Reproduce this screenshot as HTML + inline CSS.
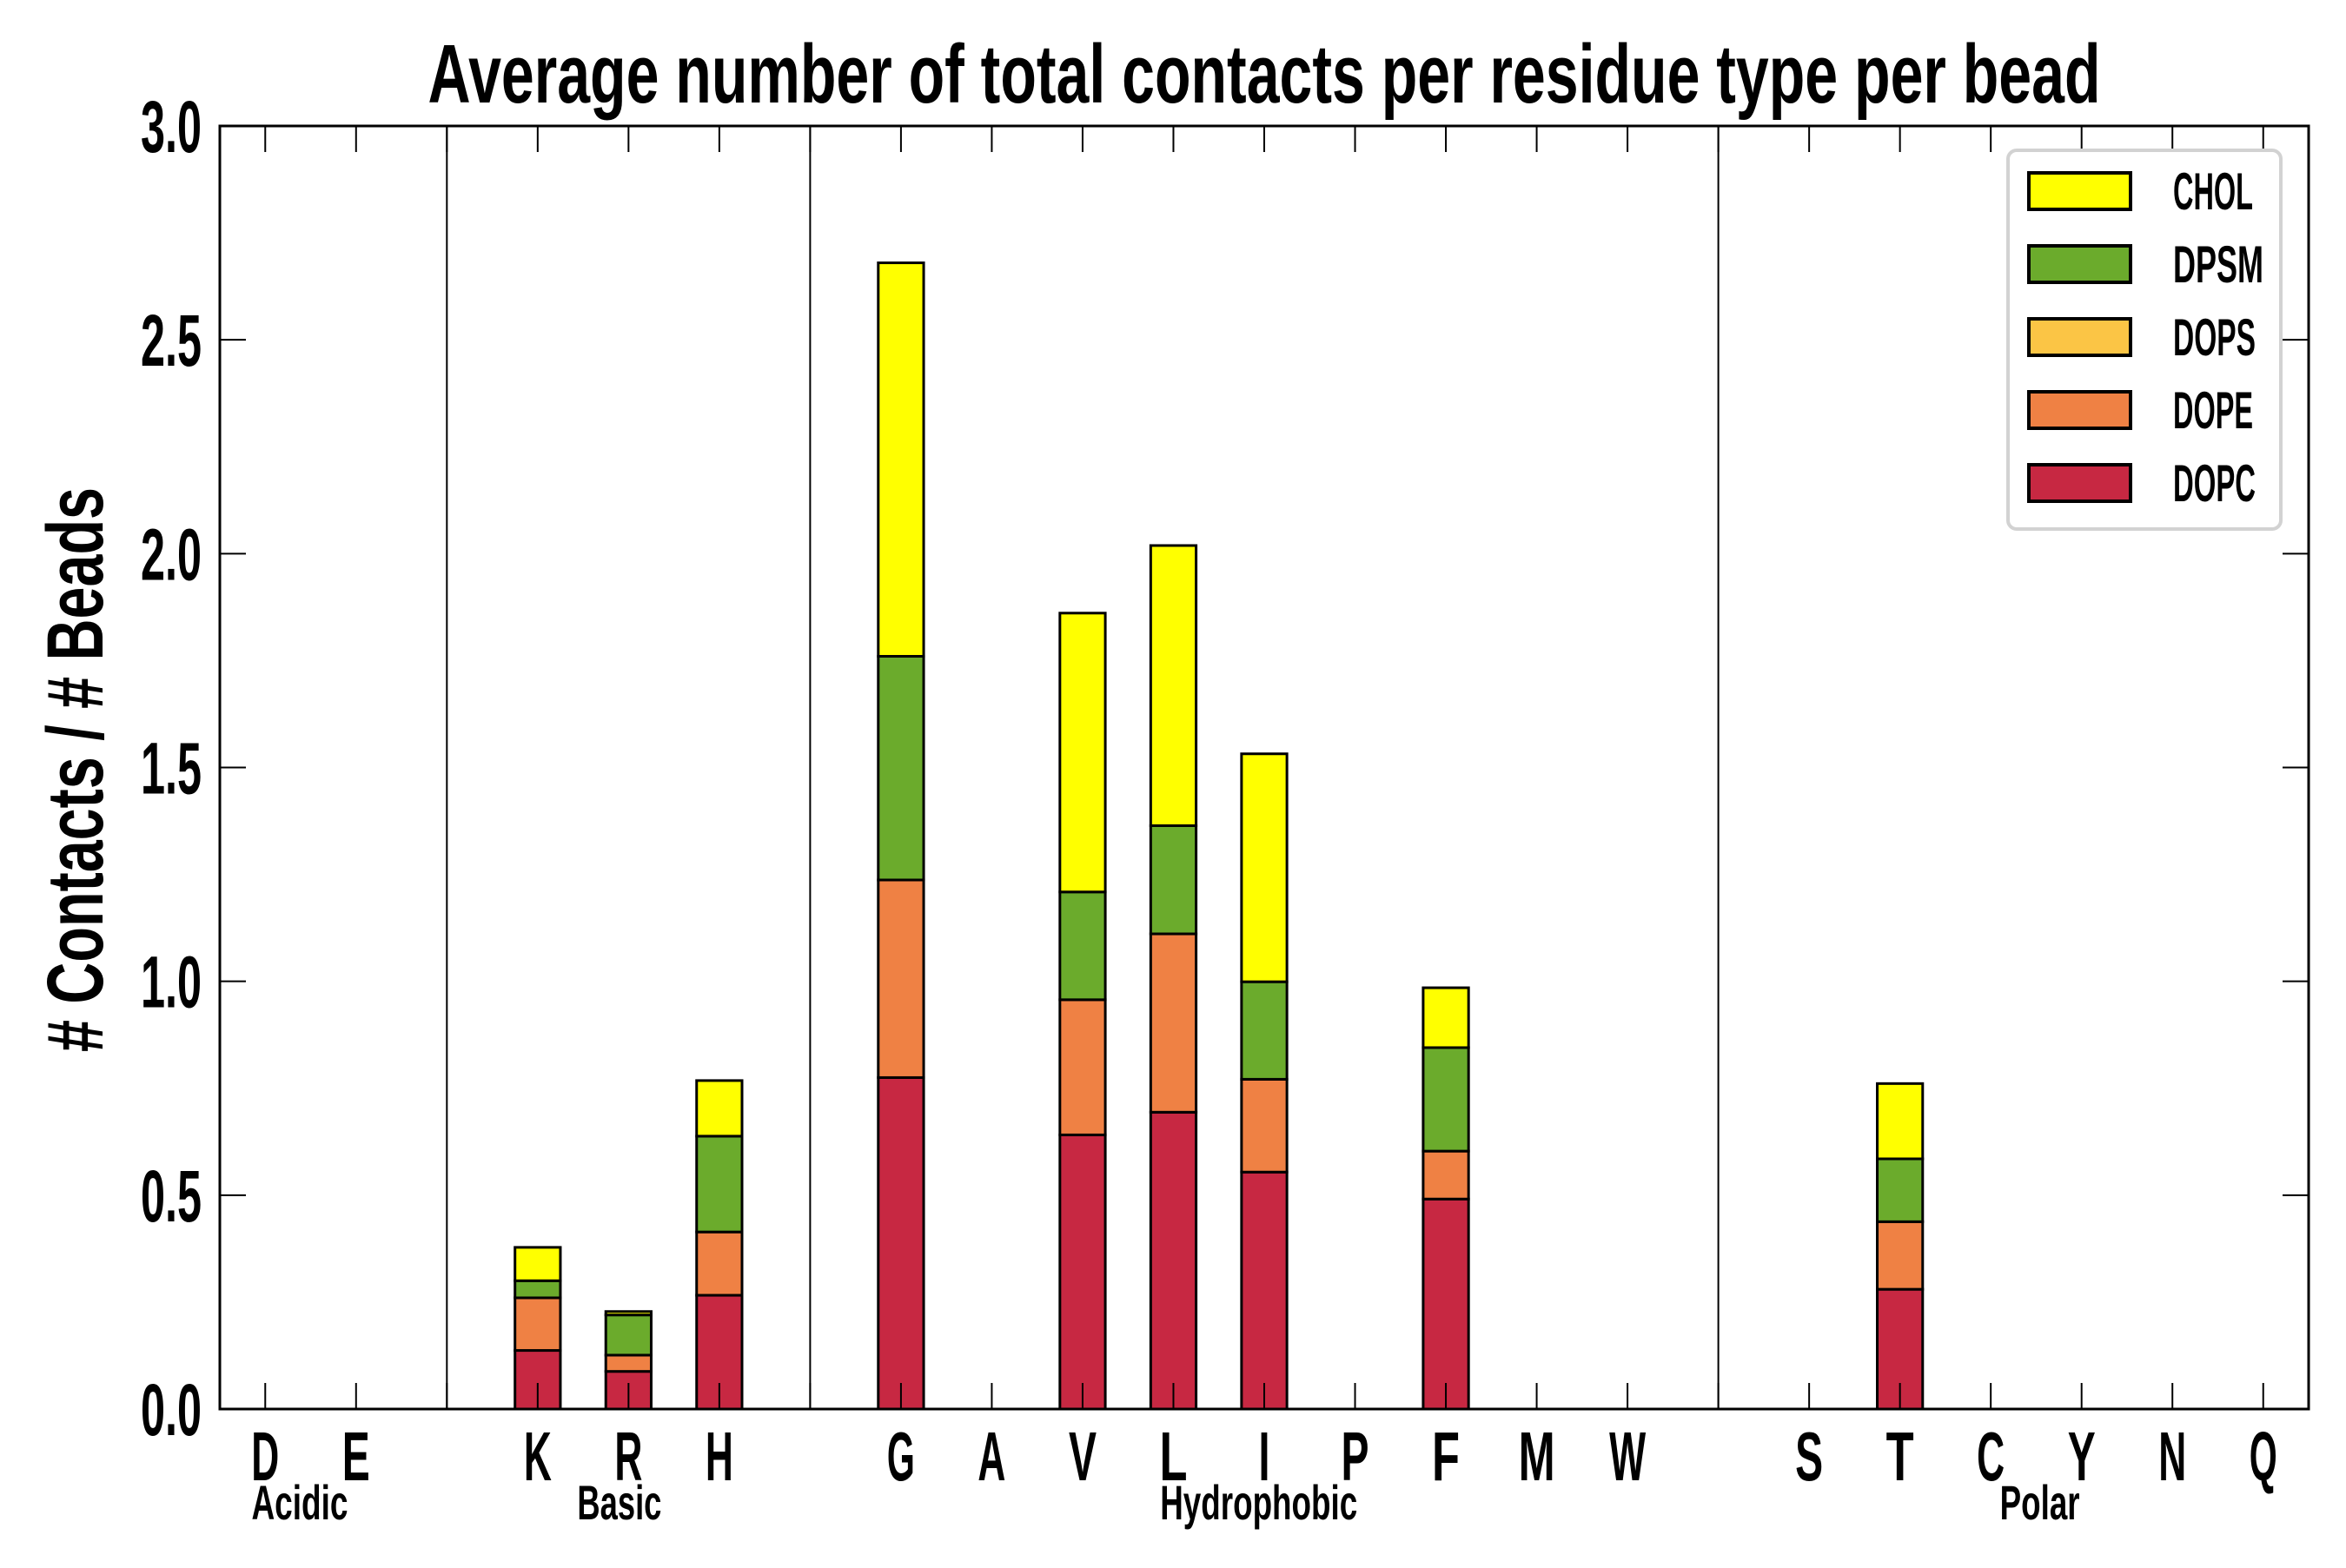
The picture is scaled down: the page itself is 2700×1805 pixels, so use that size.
<!DOCTYPE html>
<html><head><meta charset="utf-8">
<style>
html,body{margin:0;padding:0;background:#fff;}
svg text{font-family:"Liberation Sans Narrow","Liberation Sans",sans-serif;font-weight:bold;fill:#000;}
</style></head>
<body>
<svg id="chart" width="2700" height="1800" viewBox="0 0 2700 1800" xmlns="http://www.w3.org/2000/svg">
<rect x="0" y="0" width="2700" height="1800" fill="#fff"/>
<text x="1455" y="118" font-size="96" text-anchor="middle" textLength="1925" lengthAdjust="spacingAndGlyphs">Average number of total contacts per residue type per bead</text>
<text transform="translate(118,886) rotate(-90)" font-size="92" text-anchor="middle" textLength="650" lengthAdjust="spacingAndGlyphs"># Contacts / # Beads</text>
<g id="plot"></g>
</svg>
<script>
const categories = ["D","E","","K","R","H","","G","A","V","L","I","P","F","M","W","","S","T","C","Y","N","Q"];
const dopc = [0,0,0,0.137,0.088,0.266,0,0.775,0,0.641,0.694,0.554,0,0.491,0,0,0,0,0.280,0,0,0,0];
const dope = [0,0,0,0.123,0.038,0.148,0,0.462,0,0.316,0.417,0.217,0,0.112,0,0,0,0,0.158,0,0,0,0];
const dops = [0,0,0,0,0,0,0,0,0,0,0,0,0,0,0,0,0,0,0,0,0,0,0];
const dpsm = [0,0,0,0.040,0.094,0.224,0,0.523,0,0.252,0.253,0.228,0,0.242,0,0,0,0,0.147,0,0,0,0];
const chol = [0,0,0,0.078,0.008,0.130,0,0.920,0,0.652,0.655,0.533,0,0.140,0,0,0,0,0.176,0,0,0,0];
const seriesNames = ["DOPC","DOPE","DOPS","DPSM","CHOL"];
const seriesColors = ["#c72842","#ef8144","#fbc545","#6bab2c","#ffff00"];
const yTicks = [0,0.5,1.0,1.5,2.0,2.5,3.0];
const yTickLabels = ["0.0","0.5","1.0","1.5","2.0","2.5","3.0"];
const groupNames = ["Acidic","Basic","Hydrophobic","Polar"];
const groupCenters = [0.38,3.9,10.94,19.54];
const dividers = [2,6,16];

const NS="http://www.w3.org/2000/svg";
const L=253,R=2657,T=145,B=1622;
const xMin=-0.5,xMax=22.5,yMax=3;
const X=i=>L+(i-xMin)/(xMax-xMin)*(R-L);
const Y=v=>B-v/yMax*(B-T);
const plot=document.getElementById('plot');
function mk(tag,attrs,parent){const e=document.createElementNS(NS,tag);for(const k in attrs)e.setAttribute(k,attrs[k]);(parent||plot).appendChild(e);return e;}
function fit(t,w){t.setAttribute('textLength',w);t.setAttribute('lengthAdjust','spacingAndGlyphs');}

const series=[dopc,dope,dops,dpsm,chol];
const bw=(X(1)-X(0))*0.5;
categories.forEach((c,i)=>{
  let base=0;
  series.forEach((s,k)=>{
    const v=s[i];
    const r=mk('rect',{x:X(i)-bw/2,y:Y(base+v),width:bw,height:Math.max(0,Y(base)-Y(base+v)),fill:seriesColors[k],stroke:'#000','stroke-width':3});
    
    
    base+=v;
  });
});
dividers.forEach(d=>{
  const l=mk('line',{x1:X(d),x2:X(d),y1:T,y2:B,stroke:'#000','stroke-width':2});
  
  
});
categories.forEach((c,i)=>{
  const t1=mk('line',{x1:X(i),x2:X(i),y1:B,y2:B-30,stroke:'#000','stroke-width':2});
  
  
  const t2=mk('line',{x1:X(i),x2:X(i),y1:T,y2:T+30,stroke:'#000','stroke-width':2});
  
  
  if(c){
    const t=mk('text',{x:X(i),y:1704,'font-size':80,'text-anchor':'middle'});
    t.textContent=c;
    fit(t, c==='M'||c==='W'?42:(c==='I'?13:32));
    
    
  }
});
yTicks.forEach((v,j)=>{
  const a=mk('line',{x1:L,x2:L+30,y1:Y(v),y2:Y(v),stroke:'#000','stroke-width':2});
  
  
  const b=mk('line',{x1:R,x2:R-30,y1:Y(v),y2:Y(v),stroke:'#000','stroke-width':2});
  
  
  const t=mk('text',{x:232,y:Y(v)+30,'font-size':84,'text-anchor':'end'});
  t.textContent=yTickLabels[j];
  fit(t,70);
  
  
});
const groupWidths=[111,97,227,92];
groupNames.forEach((g,j)=>{
  const t=mk('text',{x:X(groupCenters[j]),y:1749,'font-size':56,'text-anchor':'middle'});
  t.textContent=g;
  fit(t,groupWidths[j]);
  
  
});
const fr=mk('rect',{x:L,y:T,width:R-L,height:B-T,fill:'none',stroke:'#000','stroke-width':3});


const lg=mk('g',{});


const lb=mk('rect',{x:2311,y:173,width:314,height:436,rx:10,fill:'#fff',stroke:'#d2d2d2','stroke-width':4},lg);


const legendWidths=[95,92,95,104,92];
for(let k=4;k>=0;k--){
  const row=4-k;
  const cy=220+row*84;
  const p=mk('rect',{x:2335,y:cy-21,width:117,height:42,fill:seriesColors[k],stroke:'#000','stroke-width':4},lg);
  
  
  const t=mk('text',{x:2501,y:cy+21,'font-size':60},lg);
  t.textContent=seriesNames[k];
  fit(t,legendWidths[k]);
  
  
}
</script>
</body></html>
